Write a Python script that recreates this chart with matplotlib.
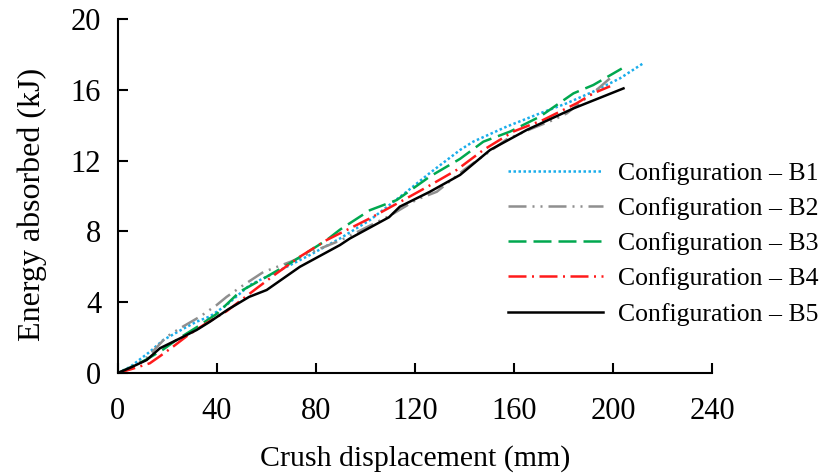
import matplotlib
matplotlib.use("Agg")
import matplotlib.pyplot as plt

plt.rcParams['font.family'] = ['Liberation Serif', 'DejaVu Serif']

# Crush displacement (mm) / energy absorbed (kJ) for each configuration
b1_x = [0, 5, 12.9, 18.3, 26.4, 31.8, 37.2, 43.9, 53.3, 68.2, 77.6, 89.7, 101.8,
        116.6, 126, 138.2, 143.5, 157, 170.5, 181.3, 192, 202.8, 212.2]
b1_y = [0, 0.35, 1.2, 1.86, 2.5, 2.9, 3.2, 3.84, 4.97, 6.0, 6.67, 7.6, 8.64,
        10.24, 11.3, 12.6, 13.07, 13.92, 14.67, 15.24, 15.9, 16.65, 17.5]

b2_x = [0, 5, 12, 19.7, 25, 33.1, 39.9, 43.9, 50, 58.7, 70, 80.3, 90, 100, 110,
        120.7, 128.8, 140, 150, 157, 167, 175.9, 181.3, 193.4, 199.5]
b2_y = [0, 0.3, 0.9, 2.05, 2.52, 3.18, 3.84, 4.3, 4.9, 5.7, 6.3, 6.95, 7.5, 8.2, 8.9,
        9.8, 10.24, 11.5, 12.5, 13.2, 13.8, 14.3, 14.67, 16.0, 16.74]

b3_x = [0, 5, 12, 18, 24, 32, 40, 49.3, 60.1, 69.5, 84.3, 89.7, 101.8, 112.6, 126,
        138.2, 147.6, 158.4, 170.5, 184, 192, 203.5]
b3_y = [0, 0.3, 0.8, 1.3, 1.9, 2.6, 3.35, 4.6, 5.44, 6.2, 7.51, 8.1, 9.2, 9.77, 11.1,
        12.1, 13.07, 13.64, 14.49, 15.8, 16.27, 17.2]

b4_x = [0, 5, 12.9, 17, 22.3, 28, 35, 44, 56, 64.1, 73.5, 84.3, 101.8, 115.3, 126,
        136.8, 147.6, 159.7, 171.8, 185.3, 192, 198.8]
b4_y = [0, 0.2, 0.55, 0.95, 1.49, 2.1, 2.75, 3.5, 4.78, 5.63, 6.57, 7.51, 8.74, 9.77, 10.6,
        11.47, 12.6, 13.64, 14.3, 15.24, 15.8, 16.2]

b5_x = [0, 5, 11.6, 17, 23.7, 31.8, 37.2, 44.6, 53, 60.1, 73.5, 89.7, 93.7, 109.5,
        113.9, 126, 138.2, 150.3, 165.1, 184, 204.2]
b5_y = [0, 0.3, 0.73, 1.4, 1.86, 2.43, 2.9, 3.6, 4.3, 4.69, 6.0, 7.23, 7.6, 8.8,
        9.4, 10.24, 11.19, 12.6, 13.73, 14.95, 16.08]

labels = ["Configuration – B1", "Configuration – B2", "Configuration – B3",
          "Configuration – B4", "Configuration – B5"]
x_ticks = [0, 40, 80, 120, 160, 200, 240]
y_ticks = [0, 4, 8, 12, 16, 20]

fig = plt.figure(figsize=(8.3, 4.75), dpi=100)
ax = fig.add_axes([0.142, 0.2147, 0.716, 0.7453])

lw = 1.8
ax.plot(b1_x, b1_y, color="#1AADEB", lw=lw, linestyle=(0, (1, 1)), label=labels[0])
ax.plot(b2_x, b2_y, color="#8F8F8F", lw=lw,
        linestyle=(0, (7.2, 2.4, 0.8, 2.4, 0.8, 2.4)), label=labels[1])
ax.plot(b3_x, b3_y, color="#00A84F", lw=lw, linestyle=(0, (7.2, 2.8)), label=labels[2])
ax.plot(b4_x, b4_y, color="#FF1A1A", lw=lw,
        linestyle=(0, (7.2, 2.2, 0.8, 2.2)), label=labels[3])
ax.plot(b5_x, b5_y, color="black", lw=lw, linestyle="-", label=labels[4])

ax.set_xlim(0, 240)
ax.set_ylim(0, 20)
ax.set_xticks(x_ticks)
ax.set_yticks(y_ticks)
for s in ("top", "right"):
    ax.spines[s].set_visible(False)
for s in ("left", "bottom"):
    ax.spines[s].set_linewidth(1.5)
ax.tick_params(direction="in", length=7, width=1.5, labelsize=22)
ax.tick_params(axis="x", pad=17)
ax.tick_params(axis="y", pad=12)

ax.set_xlabel("Crush displacement (mm)", fontsize=21.5, labelpad=14)
ax.set_ylabel("Energy absorbed (kJ)", fontsize=23)
ax.yaxis.set_label_coords(-0.12, 0.475)

ax.legend(loc="center left", bbox_to_anchor=(0.597, 0.487), bbox_transform=fig.transFigure,
          frameon=False, fontsize=18.5, handlelength=3.7, handletextpad=0.58,
          labelspacing=0.48, borderpad=0)

fig.savefig("out.png", dpi=100, facecolor="white")
